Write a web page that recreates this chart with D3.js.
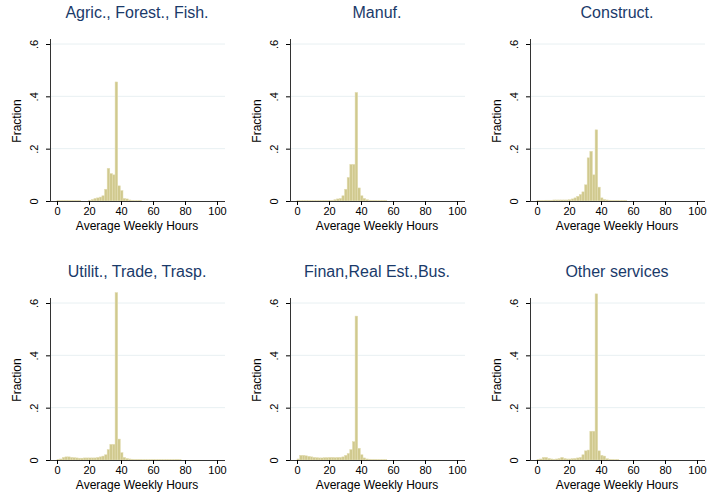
<!DOCTYPE html>
<html><head><meta charset="utf-8">
<script src="https://cdn.jsdelivr.net/npm/d3@7"></script>
<style>body{margin:0;background:#fff}text{font-family:"Liberation Sans",Arial,sans-serif}</style>
</head><body><div id="chart"></div>
<script>
// bin width in hours (Stata default)
const binWidth = 1.65;
const titles = ["Agric., Forest., Fish.", "Manuf.", "Construct.", "Utilit., Trade, Trasp.", "Finan,Real Est.,Bus.", "Other services"];
// fractions per bin, starting at bin 0
const agric = [.002,.002,.002,.002,.002,.002,.002,.002,.002,0,0,0,.003,.006,.01,.012,.015,.02,.045,.125,.105,.1,.455,.058,.04,.01,.008,.004,.002,.001,.001,.002];
const manuf = [.001,.001,.001,.001,.001,.001,.001,.001,.001,.001,.001,.001,.002,.003,.005,.008,.01,.02,.045,.09,.14,.14,.415,.05,.02,.01,.005,.003,.002,.002,.001,.001,.001,.001];
const construct = [.002,.002,.002,.003,.003,.003,.004,.004,.004,.004,.004,.004,.005,.008,.012,.018,.025,.035,.062,.165,.19,.1,.272,.053,.012,.006,.004,.003,.002,.002,.002,.001,.001,.001];
const utilit = [.002,.004,.01,.012,.012,.01,.009,.008,.007,.007,.008,.008,.008,.008,.008,.01,.012,.015,.02,.04,.06,.06,.64,.08,.028,.01,.006,.004,.003,.002,.002,.002,.001,.001,.001,.001,.001,.001,.001,.001,.001,.001,.001,.001,.001,.002,.001];
const finan = [.004,.018,.018,.016,.014,.012,.01,.009,.008,.008,.009,.009,.01,.01,.009,.01,.01,.012,.018,.025,.04,.07,.55,.045,.02,.008,.004,.003,.002,.002,.001,.001,.001,.001];
const other = [.002,.004,.01,.01,.006,.004,.003,.004,.006,.01,.006,.004,.004,.005,.006,.008,.01,.02,.035,.038,.11,.11,.635,.035,.018,.015,.005,.003,.002,.001,.001];
const series = [agric, manuf, construct, utilit, finan, other];
const yTicks = [0, .2, .4, .6];
const xTicks = [0, 20, 40, 60, 80, 100];

const svg = d3.select("#chart").append("svg").attr("width", 709).attr("height", 499);
const colX = [57, 297, 537], rowY = [201, 460];

series.forEach((vals, i) => {
  const x0 = colX[i % 3], y0 = rowY[Math.floor(i / 3)];
  const x = d3.scaleLinear().domain([0, 100]).range([x0, x0 + 160]);
  const y = d3.scaleLinear().domain([0, 0.6]).range([y0, y0 - 157]);
  const g = svg.append("g");
  // gridlines
  g.selectAll("line.grid").data(yTicks.slice(1)).enter().append("line")
    .attr("x1", x0 - 7).attr("x2", x0 + 168)
    .attr("y1", d => y(d)).attr("y2", d => y(d))
    .attr("stroke", "#e8f0f2").attr("stroke-width", 1);
  // bars
  g.selectAll("rect").data(vals).enter().append("rect")
    .attr("x", (d, k) => x(k * binWidth))
    .attr("width", x(binWidth) - x(0))
    .attr("y", d => y(d))
    .attr("height", d => y0 - y(d))
    .attr("fill", "#d0c98e").attr("stroke", "#e3ddb4").attr("stroke-width", 0.5);
  // axes
  const xa = g.append("g").attr("transform", `translate(0,${y0})`)
    .call(d3.axisBottom(x).tickValues(xTicks).tickSize(4).tickPadding(2));
  xa.select(".domain").attr("d", `M${x0 - 7},0.5H${x0 + 168}`).attr("stroke", "#333");
  const ya = g.append("g").attr("transform", `translate(${x0 - 7},0)`)
    .call(d3.axisLeft(y).tickValues(yTicks).tickSize(4).tickFormat(d => d === 0 ? "0" : d3.format(".1f")(d).replace(/^0/, "")));
  ya.select(".domain").attr("d", `M0.5,${y0}V${y0 - 162}`).attr("stroke", "#333");
  ya.selectAll(".tick text").attr("transform", "rotate(-90)").attr("x", 0).attr("y", -12)
    .attr("dy", 0).style("text-anchor", "middle");
  g.selectAll(".tick text").attr("font-size", 11).attr("fill", "#000").attr("font-family", "Liberation Sans, Arial");
  g.append("text").attr("x", x0 + 80).attr("y", y0 + 29).attr("text-anchor", "middle")
    .attr("font-size", 12).text("Average Weekly Hours");
  g.append("text").attr("transform", `translate(${x0 - 36},${y0 - 80}) rotate(-90)`)
    .attr("text-anchor", "middle").attr("font-size", 12).text("Fraction");
  g.append("text").attr("x", x0 + 80).attr("y", y0 - 183).attr("text-anchor", "middle")
    .attr("font-size", 16).attr("fill", "#1a3a6a").text(titles[i]);
});
</script></body></html>
